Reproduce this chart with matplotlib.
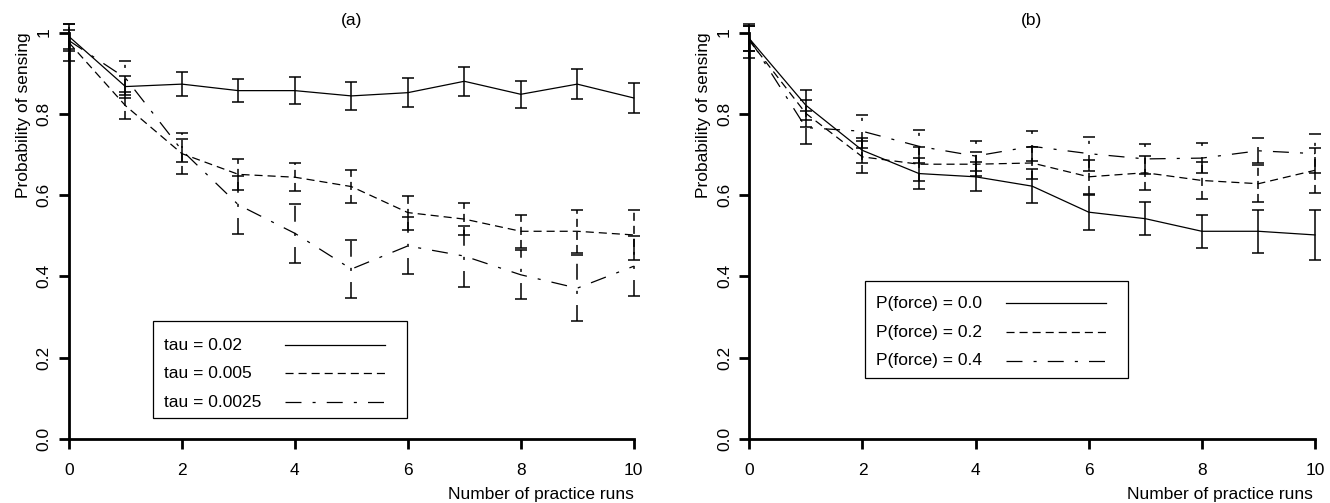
import matplotlib
matplotlib.use("Agg")
import matplotlib.pyplot as plt
from matplotlib.patches import Rectangle

plt.rcParams['font.family'] = ['Liberation Sans', 'DejaVu Sans']
plt.rcParams['font.size'] = 12.5
plt.rcParams['lines.scale_dashes'] = False

# Data
runs = list(range(11))

# panel (a): different tau values
tau_labels = ['tau = 0.02', 'tau = 0.005', 'tau = 0.0025']
tau_002 = [0.99, 0.867, 0.873, 0.857, 0.857, 0.844, 0.852, 0.880, 0.848, 0.873, 0.839]
tau_002_err = [0.03, 0.027, 0.029, 0.028, 0.033, 0.034, 0.035, 0.035, 0.033, 0.036, 0.036]
tau_0005 = [0.975, 0.820, 0.702, 0.651, 0.644, 0.621, 0.557, 0.541, 0.511, 0.511, 0.502]
tau_0005_err = [0.045, 0.034, 0.050, 0.038, 0.034, 0.040, 0.042, 0.040, 0.041, 0.053, 0.061]
tau_00025 = [0.98, 0.888, 0.710, 0.576, 0.506, 0.418, 0.475, 0.450, 0.404, 0.371, 0.425]
tau_00025_err = [0.025, 0.041, 0.029, 0.072, 0.073, 0.072, 0.070, 0.075, 0.060, 0.081, 0.074]

# panel (b): different P(force) values
force_labels = ['P(force) = 0.0', 'P(force) = 0.2', 'P(force) = 0.4']
force_00 = [0.985, 0.821, 0.710, 0.653, 0.645, 0.622, 0.558, 0.542, 0.511, 0.511, 0.502]
force_00_err = [0.03, 0.037, 0.030, 0.038, 0.036, 0.041, 0.043, 0.040, 0.041, 0.053, 0.061]
force_02 = [0.98, 0.801, 0.694, 0.676, 0.676, 0.679, 0.645, 0.655, 0.636, 0.628, 0.661]
force_02_err = [0.042, 0.034, 0.039, 0.042, 0.030, 0.040, 0.042, 0.042, 0.045, 0.045, 0.056]
force_04 = [0.985, 0.766, 0.757, 0.720, 0.696, 0.720, 0.702, 0.689, 0.691, 0.709, 0.702]
force_04_err = [0.03, 0.040, 0.040, 0.040, 0.037, 0.037, 0.042, 0.036, 0.036, 0.031, 0.048]

yticks = [0.0, 0.2, 0.4, 0.6, 0.8, 1.0]
ytick_labels = ['0.0', '0.2', '0.4', '0.6', '0.8', '1']
xticks = [0, 2, 4, 6, 8, 10]

# line styles (points): solid, dashed, dot-dash
styles = ['-', (0, (5.8, 3.6)), (0, (11.5, 8.0, 2.2, 8.0))]

W, H = 1330, 503
fig = plt.figure(figsize=(W / 100, H / 100), dpi=100)

y0, y1 = 439, 32.5
ax_a = fig.add_axes([69 / W, (H - y0) / H, (633.7 - 69) / W, (y0 - y1) / H])
ax_b = fig.add_axes([749.3 / W, (H - y0) / H, (1315 - 749.3) / W, (y0 - y1) / H])


def r_legend(ax, labels, box, text_x, line_x, rows):
    # R-style legend: text on the left, line sample on the right
    left, bottom, right, top = box
    ax.add_patch(Rectangle((left, bottom), right - left, top - bottom,
                           transform=ax.transAxes, facecolor='white',
                           edgecolor='black', lw=0.9, zorder=4))
    for lab, ls, y in zip(labels, styles, rows):
        ax.text(text_x, y, lab, transform=ax.transAxes, ha='left', va='center', zorder=5)
        ax.plot(line_x, [y, y], transform=ax.transAxes, color='black', lw=0.9,
                ls=ls, zorder=5, clip_on=False)


def draw_panel(ax, series, errs):
    for mean, err, ls in zip(series, errs, styles):
        eb = ax.errorbar(runs, mean, yerr=err, color='black', lw=0.9, ls=ls,
                         capsize=4.3, elinewidth=1.1, capthick=1.1, clip_on=False)
        eb[2][0].set_linestyle(ls)
        eb[2][0].set_clip_on(False)
        for c in eb[1]:
            c.set_clip_on(False)

    ax.set_xlim(0, 10)
    ax.set_ylim(0, 1)
    ax.set_xticks(xticks)
    ax.set_yticks(yticks)
    ax.set_yticklabels(ytick_labels, rotation=90, va='center')
    for s in ['top', 'right']:
        ax.spines[s].set_visible(False)
    ax.spines['left'].set_bounds(0, 1)
    ax.spines['bottom'].set_bounds(0, 10)
    for s in ['left', 'bottom']:
        ax.spines[s].set_linewidth(2)
    ax.tick_params(direction='out', length=7, width=2)
    ax.tick_params(axis='x', pad=10)
    ax.tick_params(axis='y', pad=5.5)
    ax.patch.set_visible(False)


draw_panel(ax_a, [tau_002, tau_0005, tau_00025],
           [tau_002_err, tau_0005_err, tau_00025_err])
r_legend(ax_a, tau_labels, (0.1488, 0.0509, 0.5985, 0.2903),
         0.1691, [0.3825, 0.5596], [0.2312, 0.1616, 0.0903])

draw_panel(ax_b, [force_00, force_02, force_04],
           [force_00_err, force_02_err, force_04_err])
r_legend(ax_b, force_labels, (0.2045, 0.1508, 0.6694, 0.3894),
         0.2234, [0.4531, 0.6305], [0.3338, 0.2632, 0.1926])

# titles and axis labels in R style
fig.text(351.5 / W, 1 - 20 / H, '(a)', ha='center', va='center')
fig.text(1032 / W, 1 - 20 / H, '(b)', ha='center', va='center')
fig.text(24 / W, 1 - y1 / H, 'Probability of sensing', rotation=90, ha='center', va='top')
fig.text(704 / W, 1 - y1 / H, 'Probability of sensing', rotation=90, ha='center', va='top')
fig.text(633.7 / W, 8 / H, 'Number of practice runs', ha='right', va='center')
fig.text(1313 / W, 8 / H, 'Number of practice runs', ha='right', va='center')

fig.savefig('out.png', dpi=100)
